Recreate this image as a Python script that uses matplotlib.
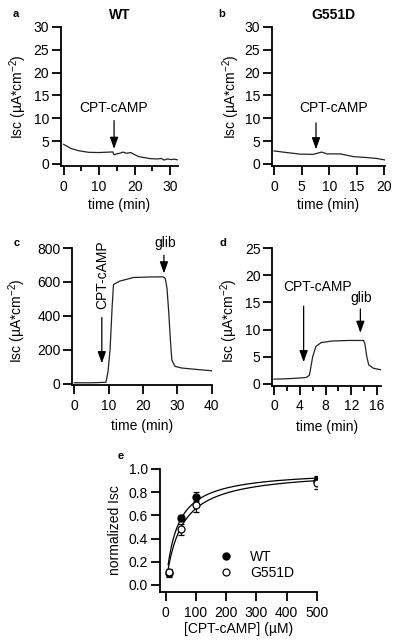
import numpy as np
import matplotlib
matplotlib.use("Agg")
import matplotlib.pyplot as plt
from matplotlib.ticker import MultipleLocator

plt.rcParams['font.family'] = ['Liberation Sans', 'DejaVu Sans']
plt.rcParams['mathtext.fontset'] = 'custom'
plt.rcParams['mathtext.rm'] = 'Liberation Sans'
plt.rcParams['mathtext.it'] = 'Liberation Sans'

# ---- data ----
a_time = [0, 2, 4.2, 7, 9.9, 13.1, 13.8, 14.2, 14.9, 15.8, 16.7, 17.7, 18.9, 19.8,
          21.2, 22.6, 24.5, 26.4, 27.5, 28.3, 29.2, 30.3, 31.2, 32]
a_isc = [4.3, 3.4, 2.9, 2.55, 2.5, 2.6, 2.65, 2.0, 2.2, 2.35, 2.6, 2.35, 2.5, 2.1,
         1.6, 1.4, 1.15, 1.1, 1.2, 0.85, 1.1, 0.95, 1.05, 0.9]

b_time = [0, 2.3, 4.7, 7.1, 7.7, 8.6, 9.6, 12.0, 14.4, 16.8, 18.6, 20]
b_isc = [2.85, 2.5, 2.15, 2.1, 2.3, 2.6, 2.2, 2.2, 1.6, 1.4, 1.2, 0.9]

c_time = [0, 5, 9.2, 9.8, 10.4, 11.0, 11.4, 13.3, 17.2, 21.9, 25.9, 26.5, 27.0,
          27.5, 28.0, 28.4, 29.3, 31.3, 36.6, 40]
c_isc = [5, 5, 8, 70, 200, 450, 585, 605, 626, 629, 630, 620, 560,
         420, 250, 140, 102, 92, 82, 76]

d_time = [0, 1.9, 4.0, 5.0, 5.5, 6.0, 6.5, 7.3, 9.0, 11.6, 13.9, 14.1, 14.4,
          14.7, 15.4, 16.6]
d_isc = [0.9, 0.95, 1.1, 1.2, 1.6, 5.0, 6.9, 7.6, 7.9, 8.0, 8.0, 7.4, 5.0,
         3.5, 2.9, 2.6]

e_conc = [10, 50, 100, 500]
e_wt = [0.10, 0.58, 0.76, 0.90]
e_wt_err = [0.03, 0.02, 0.04, 0.04]
e_g551d = [0.11, 0.48, 0.69, 0.88]
e_g551d_err = [0.03, 0.05, 0.06, 0.05]
fit_wt = (0.99, 37.0)      # Vmax, K
fit_g551d = (0.99, 50.0)

ylab = 'Isc (µA*cm$^{\\mathregular{-2}}$)'
FS = 10
W, H = 403, 640
fig = plt.figure(figsize=(W / 100, H / 100), dpi=100)


def rect(l, r, t, b):
    return [l / W, 1 - b / H, (r - l) / W, (b - t) / H]


def style(ax):
    for s in ('top', 'right'):
        ax.spines[s].set_visible(False)
    for s in ('left', 'bottom'):
        ax.spines[s].set_linewidth(1.3)
    ax.tick_params(axis='x', which='major', direction='out', length=6.5, width=1.3,
                   labelsize=FS, pad=3.5)
    ax.tick_params(axis='x', which='minor', direction='out', length=3.5, width=1.3)
    ax.tick_params(axis='y', which='major', direction='out', length=6.5, width=1.3,
                   labelsize=FS, pad=2)


def arrow(ax, x, y0, y1):
    ax.annotate('', xy=(x, y1), xytext=(x, y0),
                arrowprops=dict(arrowstyle='-|>,head_width=0.25,head_length=0.7',
                                color='black', lw=0.9, shrinkA=0, shrinkB=0))


# panel a
ax = fig.add_axes(rect(61, 178, 27, 166))
style(ax)
ax.plot(a_time, a_isc, color='#222222', lw=0.9)
ax.set_xlim(-0.75, 32.2)
ax.set_ylim(-0.45, 30)
ax.xaxis.set_major_locator(MultipleLocator(10))
ax.xaxis.set_minor_locator(MultipleLocator(5))
ax.yaxis.set_major_locator(MultipleLocator(5))
ax.set_xlabel('time (min)', fontsize=FS)
ax.set_ylabel(ylab, fontsize=FS)
ax.yaxis.set_label_coords(-0.27, 0.5)
ax.xaxis.set_label_coords(0.5, -0.23)
arrow(ax, 14.2, 9.5, 3.3)
ax.text(14.1, 12.3, 'CPT-cAMP', ha='center', va='center', fontsize=FS)

# panel b
ax = fig.add_axes(rect(271.7, 385, 27, 166))
style(ax)
ax.plot(b_time, b_isc, color='#222222', lw=0.9)
ax.set_xlim(-0.42, 20.1)
ax.set_ylim(-0.45, 30)
ax.xaxis.set_major_locator(MultipleLocator(5))
ax.yaxis.set_major_locator(MultipleLocator(5))
ax.set_xlabel('time (min)', fontsize=FS)
ax.set_ylabel(ylab, fontsize=FS)
ax.yaxis.set_label_coords(-0.26, 0.5)
ax.xaxis.set_label_coords(0.5, -0.23)
arrow(ax, 7.6, 9.0, 3.2)
ax.text(10.7, 12.3, 'CPT-cAMP', ha='center', va='center', fontsize=FS)

# panel c
ax = fig.add_axes(rect(72.3, 212, 248, 385))
style(ax)
ax.plot(c_time, c_isc, color='#222222', lw=0.9)
ax.set_xlim(-0.6, 40.1)
ax.set_ylim(-8, 800)
ax.xaxis.set_major_locator(MultipleLocator(10))
ax.yaxis.set_major_locator(MultipleLocator(200))
ax.set_xlabel('time (min)', fontsize=FS)
ax.set_ylabel(ylab, fontsize=FS)
ax.yaxis.set_label_coords(-0.317, 0.47)
ax.xaxis.set_label_coords(0.5, -0.248)
arrow(ax, 8.0, 390, 120)
ax.text(8.0, 640, 'CPT-cAMP', ha='center', va='center', rotation=90, fontsize=FS)
arrow(ax, 26.1, 758, 650)
ax.text(26.4, 829, 'glib', ha='center', va='center', fontsize=FS)

# panel d
ax = fig.add_axes(rect(272.3, 381, 248, 385.5))
style(ax)
ax.plot(d_time, d_isc, color='#222222', lw=0.9)
ax.set_xlim(-0.26, 16.6)
ax.set_ylim(-0.28, 25)
ax.xaxis.set_major_locator(MultipleLocator(4))
ax.xaxis.set_minor_locator(MultipleLocator(2))
ax.yaxis.set_major_locator(MultipleLocator(5))
ax.set_xlabel('time (min)', fontsize=FS)
ax.set_ylabel(ylab, fontsize=FS)
ax.yaxis.set_label_coords(-0.297, 0.47)
ax.xaxis.set_label_coords(0.5, -0.248)
arrow(ax, 4.6, 14.3, 4.0)
ax.text(6.7, 17.8, 'CPT-cAMP', ha='center', va='center', fontsize=FS)
arrow(ax, 13.4, 13.8, 9.4)
ax.text(13.6, 15.8, 'glib', ha='center', va='center', fontsize=FS)

# panel e
ax = fig.add_axes(rect(160, 317, 469, 591.7))
style(ax)
xx = np.linspace(8, 500, 300)
for (vm, k) in (fit_wt, fit_g551d):
    ax.plot(xx, vm * xx / (k + xx), color='black', lw=0.9, zorder=1)
ax.errorbar(e_conc, e_wt, yerr=e_wt_err, fmt='o', ms=5, mfc='black', mec='black',
            ecolor='black', elinewidth=0.9, capsize=2.5, capthick=0.9, label='WT', zorder=3)
ax.errorbar(e_conc, e_g551d, yerr=e_g551d_err, fmt='o', ms=5, mfc='white', mec='black',
            mew=0.9, ecolor='black', elinewidth=0.9, capsize=2.5, capthick=0.9,
            label='G551D', zorder=4)
ax.set_xlim(-19, 500)
ax.set_ylim(-0.058, 1.0)
ax.xaxis.set_major_locator(MultipleLocator(100))
ax.yaxis.set_major_locator(MultipleLocator(0.2))
ax.yaxis.set_major_formatter(matplotlib.ticker.FormatStrFormatter('%.1f'))
ax.set_xlabel('[CPT-cAMP] (µM)', fontsize=FS)
ax.set_ylabel('normalized Isc', fontsize=FS)
ax.yaxis.set_label_coords(-0.24, 0.5)
ax.xaxis.set_label_coords(0.5, -0.247)
h, l = ax.get_legend_handles_labels()
h = [hh[0] for hh in h]
ax.legend(h, l, loc='center left', bbox_to_anchor=(0.335, 0.22), frameon=False,
          fontsize=FS, handlelength=1.0, handletextpad=1.2, labelspacing=0.15,
          borderpad=0)

# panel letters and titles
LF = 8
fig.text(16 / W, 1 - 14 / H, 'a', fontsize=LF, fontweight='bold', ha='center', va='center')
fig.text(222 / W, 1 - 14 / H, 'b', fontsize=LF, fontweight='bold', ha='center', va='center')
fig.text(17 / W, 1 - 243 / H, 'c', fontsize=LF, fontweight='bold', ha='center', va='center')
fig.text(223 / W, 1 - 243 / H, 'd', fontsize=LF, fontweight='bold', ha='center', va='center')
fig.text(121 / W, 1 - 456 / H, 'e', fontsize=LF, fontweight='bold', ha='center', va='center')
fig.text(120 / W, 1 - 15 / H, 'WT', fontsize=FS, fontweight='bold', ha='center', va='center')
fig.text(333 / W, 1 - 15 / H, 'G551D', fontsize=FS, fontweight='bold', ha='center', va='center')

fig.savefig('out.png', dpi=100)
